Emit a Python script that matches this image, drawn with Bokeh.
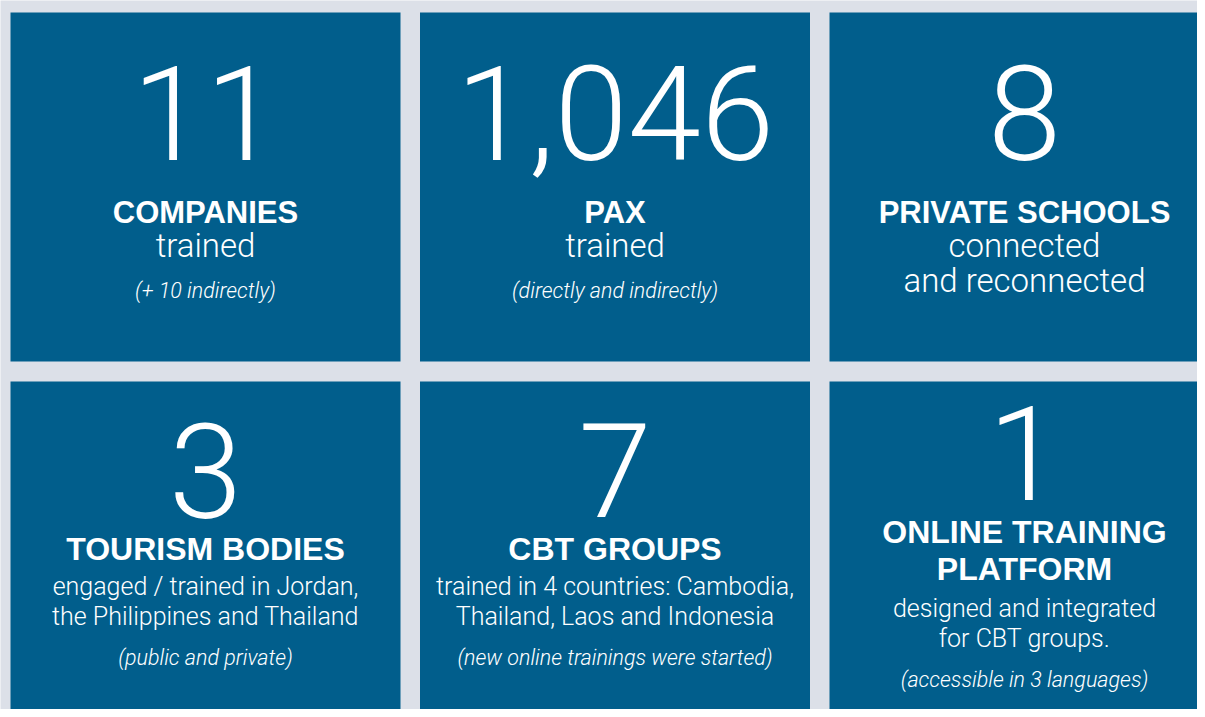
from bokeh.plotting import figure
from bokeh.models import Range1d, ColumnDataSource
from bokeh.core.properties import value
from bokeh.embed import file_html
from bokeh.resources import INLINE

# ---------------- data ----------------
values = [11, 1046, 8, 3, 7, 1]
headings = [
    ["COMPANIES"],
    ["PAX"],
    ["PRIVATE SCHOOLS"],
    ["TOURISM BODIES"],
    ["CBT GROUPS"],
    ["ONLINE TRAINING", "PLATFORM"],
]
descriptions = [
    ["trained"],
    ["trained"],
    ["connected", "and reconnected"],
    ["engaged / trained in Jordan,", "the Philippines and Thailand"],
    ["trained in 4 countries: Cambodia,", "Thailand, Laos and Indonesia"],
    ["designed and integrated", "for CBT groups."],
]
notes = [
    "(+ 10 indirectly)",
    "(directly and indirectly)",
    "",
    "(public and private)",
    "(new online trainings were started)",
    "(accessible in 3 languages)",
]

# ---------------- layout / style ----------------
BG = "#dce0e8"
TILE = "#015e8c"
NCOLS = 3
TILE_W, TILE_H = 390, 349
GAP_X, GAP_Y = 19.5, 20
X0, Y0 = 10, 12
SHIFT = 0.36  # baseline correction (fraction of font size)

# per tile offsets (from tile top) of text baselines, and font sizes
layout = [
    dict(num=148, head=211, hstep=37, desc=245, dstep=35, note=286, dsize=33, hsize=31),
    dict(num=148, head=211, hstep=37, desc=245, dstep=35, note=286, dsize=33, hsize=31),
    dict(num=148, head=211, hstep=37, desc=245, dstep=35, note=286, dsize=33, hsize=31),
    dict(num=137, head=179, hstep=37, desc=214, dstep=30, note=284, dsize=25, hsize=32),
    dict(num=136, head=179, hstep=37, desc=214, dstep=30, note=284, dsize=25, hsize=32),
    dict(num=119, head=162, hstep=37, desc=236, dstep=30, note=306, dsize=25, hsize=32),
]
NUM_SIZE = 132
NOTE_SIZE = 21.5

NUM_FONT = "Roboto Light"
BODY_FONT = "Roboto Light"
HEAD_FONT = "Liberation Sans"

p = figure(width=1197, height=709, x_range=Range1d(0, 1197), y_range=Range1d(709, 0),
           output_backend="svg", toolbar_location=None, min_border=0)
p.axis.visible = False
p.grid.visible = False
p.outline_line_color = None
p.background_fill_color = BG
p.border_fill_color = BG

lefts, tops = [], []
for i in range(len(values)):
    c, r = i % NCOLS, i // NCOLS
    lefts.append(X0 + c * (TILE_W + GAP_X))
    tops.append(Y0 + r * (TILE_H + GAP_Y))

tiles = ColumnDataSource(dict(
    left=lefts, right=[l + TILE_W for l in lefts],
    top=tops, bottom=[t + TILE_H for t in tops]))
p.quad(left="left", right="right", top="top", bottom="bottom", source=tiles,
       fill_color=TILE, line_color=None)

centers = [l + TILE_W / 2 for l in lefts]


def add_text(xs, ys, texts, font, size, style="normal"):
    p.text(x="x", y="y", text="text",
           source=ColumnDataSource(dict(x=xs, y=[y - SHIFT * size for y in ys], text=texts)),
           text_color="white", text_font=value(font), text_font_style=style,
           text_font_size=value(f"{size}px"), text_align="center", text_baseline="alphabetic")


add_text(centers, [tops[i] + layout[i]["num"] for i in range(len(values))],
         [f"{v:,}" for v in values], NUM_FONT, NUM_SIZE)

for hs in sorted({l["hsize"] for l in layout}):
    hx, hy, ht = [], [], []
    for i, lines in enumerate(headings):
        if layout[i]["hsize"] != hs:
            continue
        for k, s in enumerate(lines):
            hx.append(centers[i]); hy.append(tops[i] + layout[i]["head"] + k * layout[i]["hstep"]); ht.append(s)
    add_text(hx, hy, ht, HEAD_FONT, hs, "bold")

for ds in sorted({l["dsize"] for l in layout}):
    dx, dy, dt = [], [], []
    for i, lines in enumerate(descriptions):
        if layout[i]["dsize"] != ds:
            continue
        for k, s in enumerate(lines):
            dx.append(centers[i]); dy.append(tops[i] + layout[i]["desc"] + k * layout[i]["dstep"]); dt.append(s)
    add_text(dx, dy, dt, BODY_FONT, ds)

nx, ny, nt = [], [], []
for i, s in enumerate(notes):
    if s:
        nx.append(centers[i]); ny.append(tops[i] + layout[i]["note"]); nt.append(s)
add_text(nx, ny, nt, BODY_FONT, NOTE_SIZE, "italic")

open("out.html", "w").write(file_html(p, INLINE))
